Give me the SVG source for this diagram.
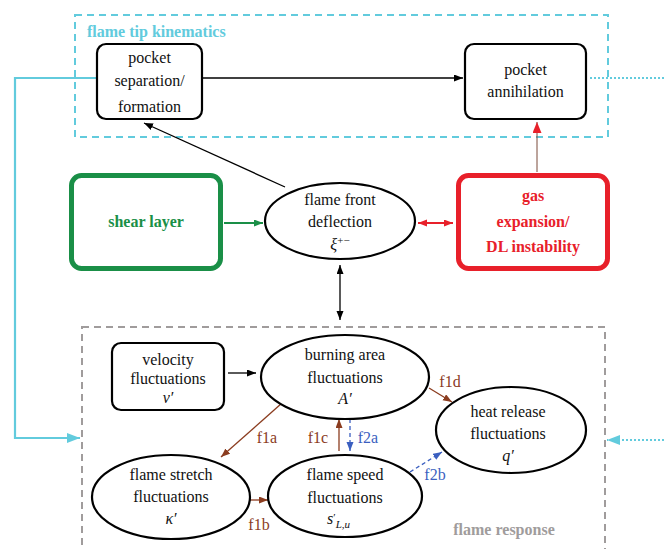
<svg xmlns="http://www.w3.org/2000/svg" width="664" height="549" viewBox="0 0 664 549" font-family="'Liberation Serif', 'Times New Roman', 'DejaVu Serif', serif">
<style>
text{font-family:'Liberation Serif','Times New Roman','DejaVu Serif',serif;font-size:16px;fill:#111;text-anchor:middle}
.b{font-weight:bold}
.it{font-style:italic}
.st{text-anchor:start}
.node{fill:#fff;stroke:#000;stroke-width:2.2}
.cy{fill:#62cbdd}
.gr{fill:#a09c9c}
.br{fill:#8b3c1f}
.bl{fill:#3b5fc0}
</style>
<defs>
<marker id="ak" markerUnits="userSpaceOnUse" markerWidth="10" markerHeight="8" refX="9" refY="3.5" orient="auto-start-reverse"><path d="M0,0 L9,3.5 L0,7 z" fill="#000"/></marker>
<marker id="ag" markerUnits="userSpaceOnUse" markerWidth="10" markerHeight="8" refX="9" refY="3.5" orient="auto"><path d="M0,0 L9,3.5 L0,7 z" fill="#1a8f47"/></marker>
<marker id="ar" markerUnits="userSpaceOnUse" markerWidth="10" markerHeight="8" refX="9" refY="3.5" orient="auto-start-reverse"><path d="M0,0 L9,3.5 L0,7 z" fill="#e8202a"/></marker>
<marker id="ar2" markerUnits="userSpaceOnUse" markerWidth="12" markerHeight="12" refX="11" refY="4.5" orient="auto"><path d="M0,0 L11,4.5 L0,9 z" fill="#e8202a"/></marker>
<marker id="ac" markerUnits="userSpaceOnUse" markerWidth="14" markerHeight="12" refX="13" refY="5" orient="auto"><path d="M0,0 L13,5 L0,10 z" fill="#62cbdd"/></marker>
<marker id="abr" markerUnits="userSpaceOnUse" markerWidth="10" markerHeight="8" refX="9" refY="3.5" orient="auto"><path d="M0,0 L9,3.5 L0,7 z" fill="#8b3c1f"/></marker>
<marker id="abl" markerUnits="userSpaceOnUse" markerWidth="10" markerHeight="8" refX="9" refY="3.5" orient="auto"><path d="M0,0 L9,3.5 L0,7 z" fill="#3b5fc0"/></marker>
</defs>

<g id="group-flame-tip">
<rect x="75" y="15" width="533" height="122" fill="none" stroke="#62cbdd" stroke-width="2" stroke-dasharray="7,5"/>
<text class="b cy st" x="87" y="37">flame tip kinematics</text>
</g>
<g id="group-flame-response">
<rect x="82" y="327" width="523" height="240" fill="none" stroke="#a09c9c" stroke-width="2" stroke-dasharray="7,5"/>
<text class="b gr" x="504" y="535">flame response</text>
</g>

<g id="connectors" fill="none">
<path d="M97,78 H15 V438 H80" stroke="#62cbdd" stroke-width="2.2" marker-end="url(#ac)"/>
<path d="M590,78 H664" stroke="#62cbdd" stroke-width="2" stroke-dasharray="2,2"/>
<path d="M664,440 H607" stroke="#62cbdd" stroke-width="2" stroke-dasharray="2,2" marker-end="url(#ac)"/>
<path d="M202,78 H463" stroke="#000" stroke-width="1.3" marker-end="url(#ak)"/>
<path d="M285,187 L144,123" stroke="#000" stroke-width="1.3" marker-end="url(#ak)"/>
<path d="M224,223 H263" stroke="#1a8f47" stroke-width="2" marker-end="url(#ag)"/>
<path d="M418,223 H453" stroke="#e8202a" stroke-width="2" marker-start="url(#ar)" marker-end="url(#ar)"/>
<path d="M537,172 V122" stroke="#7a4a3a" stroke-width="1" marker-end="url(#ar2)"/>
<path d="M340,265 V320" stroke="#000" stroke-width="1.3" marker-start="url(#ak)" marker-end="url(#ak)"/>
<path d="M228,373 H256" stroke="#000" stroke-width="1.3" marker-end="url(#ak)"/>
<path d="M282,403 L221,457" stroke="#8b3c1f" stroke-width="1.3" marker-end="url(#abr)"/>
<path d="M250,500 H268" stroke="#8b3c1f" stroke-width="1.3" marker-end="url(#abr)"/>
<path d="M339,451 V419" stroke="#8b3c1f" stroke-width="1.3" marker-end="url(#abr)"/>
<path d="M350,419 V451" stroke="#3b5fc0" stroke-width="1.3" stroke-dasharray="4,3" marker-end="url(#abl)"/>
<path d="M429,388 L452,402" stroke="#8b3c1f" stroke-width="1.3" marker-end="url(#abr)"/>
<path d="M410,472 L442,452" stroke="#3b5fc0" stroke-width="1.3" stroke-dasharray="4,3" marker-end="url(#abl)"/>
<text class="br" x="267" y="443">f1a</text>
<text class="br" x="259" y="530">f1b</text>
<text class="br" x="318" y="443">f1c</text>
<text class="bl" x="368" y="443">f2a</text>
<text class="br" x="450" y="387">f1d</text>
<text class="bl" x="435" y="480">f2b</text>
</g>

<g id="node-pocket-separation">
<rect class="node" x="97" y="44" width="105" height="75" rx="9"/>
<text x="149.5" y="63">pocket</text>
<text x="149.5" y="86">separation/</text>
<text x="149.5" y="112">formation</text>
</g>
<g id="node-pocket-annihilation">
<rect class="node" x="465" y="44" width="121" height="75" rx="9"/>
<text x="525.5" y="75">pocket</text>
<text x="525.5" y="97">annihilation</text>
</g>
<g id="node-shear-layer">
<rect x="71.5" y="175.5" width="149" height="93" rx="10" fill="#fff" stroke="#1a8f47" stroke-width="5"/>
<text class="b" x="146" y="227" style="fill:#1a8f47">shear layer</text>
</g>
<g id="node-gas-expansion">
<rect x="458.5" y="175.5" width="149" height="93" rx="10" fill="#fff" stroke="#e8202a" stroke-width="5"/>
<text class="b" x="533" y="201" style="fill:#e8202a">gas</text>
<text class="b" x="533" y="227" style="fill:#e8202a">expansion/</text>
<text class="b" x="533" y="252" style="fill:#e8202a">DL instability</text>
</g>
<g id="node-flame-front">
<ellipse class="node" cx="340" cy="221" rx="75" ry="38"/>
<text x="340" y="205">flame front</text>
<text x="340" y="227">deflection</text>
<text x="340" y="250"><tspan class="it">ξ</tspan><tspan font-size="11" dy="-6">+−</tspan></text>
</g>
<g id="node-velocity">
<rect class="node" x="112" y="343" width="112" height="67" rx="9"/>
<text x="168" y="365">velocity</text>
<text x="168" y="384">fluctuations</text>
<text x="168" y="403" class="it">v′</text>
</g>
<g id="node-burning-area">
<ellipse class="node" cx="345" cy="377" rx="84" ry="42"/>
<text x="345" y="360">burning area</text>
<text x="345" y="383">fluctuations</text>
<text x="345" y="404" class="it">A′</text>
</g>
<g id="node-flame-stretch">
<ellipse class="node" cx="171" cy="497" rx="79" ry="42"/>
<text x="171" y="480">flame stretch</text>
<text x="171" y="502">fluctuations</text>
<text x="171" y="524" class="it">κ′</text>
</g>
<g id="node-flame-speed">
<ellipse class="node" cx="345" cy="496" rx="77" ry="41"/>
<text x="345" y="480">flame speed</text>
<text x="345" y="503">fluctuations</text>
<text x="327" y="524" class="st"><tspan class="it">s</tspan><tspan font-size="11" dy="-3">′</tspan><tspan class="it" font-size="11" dy="7">L,u</tspan></text>
</g>
<g id="node-heat-release">
<ellipse class="node" cx="511" cy="430" rx="75" ry="43"/>
<text x="508" y="417">heat release</text>
<text x="508" y="439">fluctuations</text>
<text x="508" y="461" class="it">q′</text>
</g>
</svg>
